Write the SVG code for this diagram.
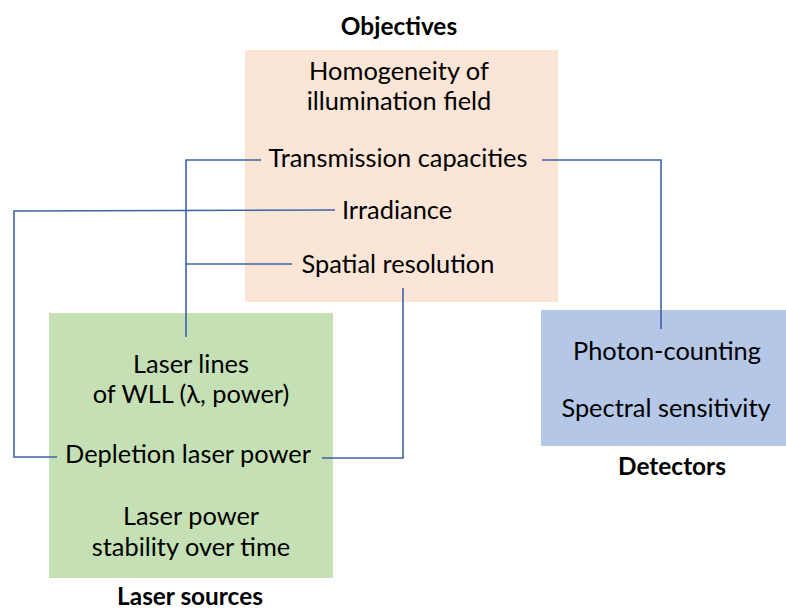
<svg xmlns="http://www.w3.org/2000/svg" width="786" height="610" viewBox="0 0 786 610">
  <style>
    .t { font-family: Lato, "Liberation Sans", sans-serif; font-size: 25.4px; fill: #000; text-anchor: middle; }
    .h { font-family: Lato, "Liberation Sans", sans-serif; font-size: 24.4px; font-weight: bold; fill: #000; text-anchor: middle; }
    .c { fill: none; stroke: #3E62A8; stroke-width: 1.6; }
  </style>
  <rect width="786" height="610" fill="#fff"/>

  <!-- Objectives -->
  <g id="objectives">
    <rect x="245" y="50" width="313" height="252" fill="#FBE5D6"/>
    <text class="h" x="399" y="35">Objectives</text>
    <text class="t" x="399" y="80">Homogeneity of</text>
    <text class="t" x="399" y="110">illumination field</text>
    <text class="t" x="398" y="167">Transmission capacities</text>
    <text class="t" x="397" y="219">Irradiance</text>
    <text class="t" x="398" y="273">Spatial resolution</text>
  </g>

  <!-- Laser sources -->
  <g id="laser-sources">
    <rect x="49" y="313" width="284" height="265" fill="#C5E0B4"/>
    <text class="t" x="191" y="373">Laser lines</text>
    <text class="t" x="191" y="403">of WLL (λ, power)</text>
    <text class="t" x="188" y="463">Depletion laser power</text>
    <text class="t" x="191" y="525">Laser power</text>
    <text class="t" x="191" y="556">stability over time</text>
    <text class="h" x="190" y="605">Laser sources</text>
  </g>

  <!-- Detectors -->
  <g id="detectors">
    <rect x="541" y="310" width="245" height="136" fill="#B4C7E7"/>
    <text class="t" x="667" y="360">Photon-counting</text>
    <text class="t" x="666" y="417">Spectral sensitivity</text>
    <text class="h" x="672" y="475">Detectors</text>
  </g>

  <!-- Connectors -->
  <g id="connectors">
    <polyline class="c" points="261,160 186,160 186,337"/>
    <polyline class="c" points="292,264 186,264"/>
    <polyline class="c" points="542,160 661,160 661,329"/>
    <polyline class="c" points="335,210 14,211 14,457 57,457"/>
    <polyline class="c" points="403,288 403,458 322,458"/>
  </g>
</svg>
